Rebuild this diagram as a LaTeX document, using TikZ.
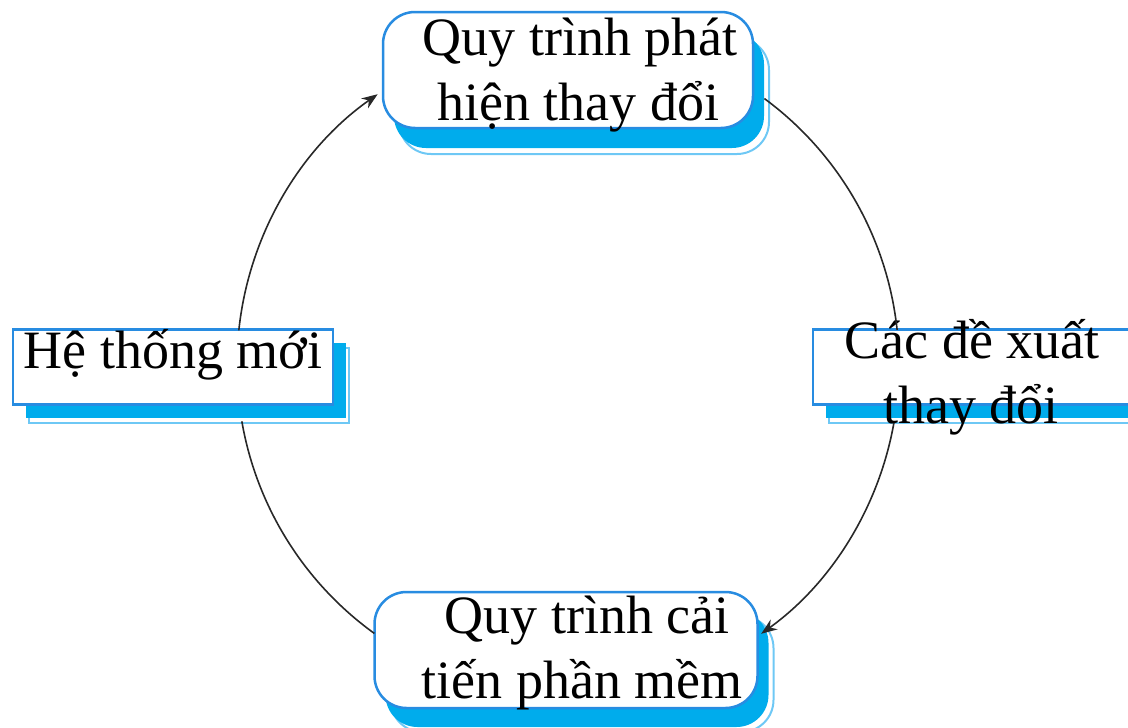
\documentclass[tikz,border=0pt]{standalone}
\usepackage{fontspec}
\setmainfont{Liberation Serif}
\usetikzlibrary{arrows.meta}
\definecolor{boxblue}{RGB}{40,140,225}
\definecolor{shadowcyan}{RGB}{0,172,236}
\definecolor{shadowline}{RGB}{110,200,245}
\definecolor{arcgray}{RGB}{40,40,40}
\tikzset{
  boxmain/.style={draw=boxblue, line width=2.5pt, fill=white, inner sep=0pt},
  shfill/.style={fill=shadowcyan, draw=none, inner sep=0pt},
  shedge/.style={draw=shadowline, line width=2pt, inner sep=0pt},
  txt/.style={font=\fontsize{54}{65}\selectfont, anchor=base, inner sep=0pt},
  conn/.style={draw=arcgray, line width=1.6pt},
  tipped/.style={-{Stealth[length=16pt,width=12pt]}},
  roundbox/.style={rounded corners=32pt, minimum width=370pt, minimum height=116pt},
  flatbox/.style={minimum width=320pt, minimum height=75pt}
}
\begin{document}
\begin{tikzpicture}[x=1pt,y=-1pt]
\useasboundingbox (0,0) rectangle (1128,728);
\clip (0,0) rectangle (1128,728);

% top box
\node[shedge, roundbox] (topse) at (584,96) {};
\node[shfill, roundbox] (topsf) at (579,90) {};
\node[boxmain, roundbox] (top) at (568,70) {};
% bottom box
\node[shedge, roundbox, minimum width=383pt] (botse) at (582,674) {};
\node[shfill, roundbox, minimum width=383pt] (botsf) at (577,669) {};
\node[boxmain, roundbox, minimum width=383pt] (bot) at (566,650) {};
% left box
\node[shedge, flatbox] (leftse) at (189,385) {};
\node[shfill, flatbox] (leftsf) at (186,380) {};
\node[boxmain, flatbox] (left) at (173,367) {};
% right box
\node[shedge, flatbox, minimum width=322pt] (rightse) at (990,385) {};
\node[shfill, flatbox, minimum width=322pt] (rightsf) at (987,380) {};
\node[boxmain, flatbox, minimum width=322pt] (right) at (974,367) {};

% texts
\node[txt] (t1a) at (580,55) {Quy trình phát};
\node[txt] (t1b) at (578,120) {hiện thay đổi};
\node[txt] (t2) at (173,368) {Hệ thống mới};
\node[txt] (t3a) at (972,358) {Các đề xuất};
\node[txt] (t3b) at (971,423) {thay đổi};
\node[txt] (t4a) at (587,633) {Quy trình cải};
\node[txt] (t4b) at (582,698) {tiến phần mềm};

% circle connectors
\coordinate (c) at (568,365);
\path (c) ++(186:331) coordinate (a1s);
\path (c) ++(306.4:331) coordinate (a2s);
\path (c) ++(10.1:331) coordinate (a3s);
\path (c) ++(125.8:331) coordinate (a4s);
\draw[conn, tipped] (a1s) arc[start angle=186, end angle=234.9, radius=331];
\draw[conn] (a2s) arc[start angle=306.4, end angle=353.9, radius=331];
\draw[conn, tipped] (a3s) arc[start angle=10.1, end angle=54.3, radius=331];
\draw[conn] (a4s) arc[start angle=125.8, end angle=170.2, radius=331];
\end{tikzpicture}
\end{document}
